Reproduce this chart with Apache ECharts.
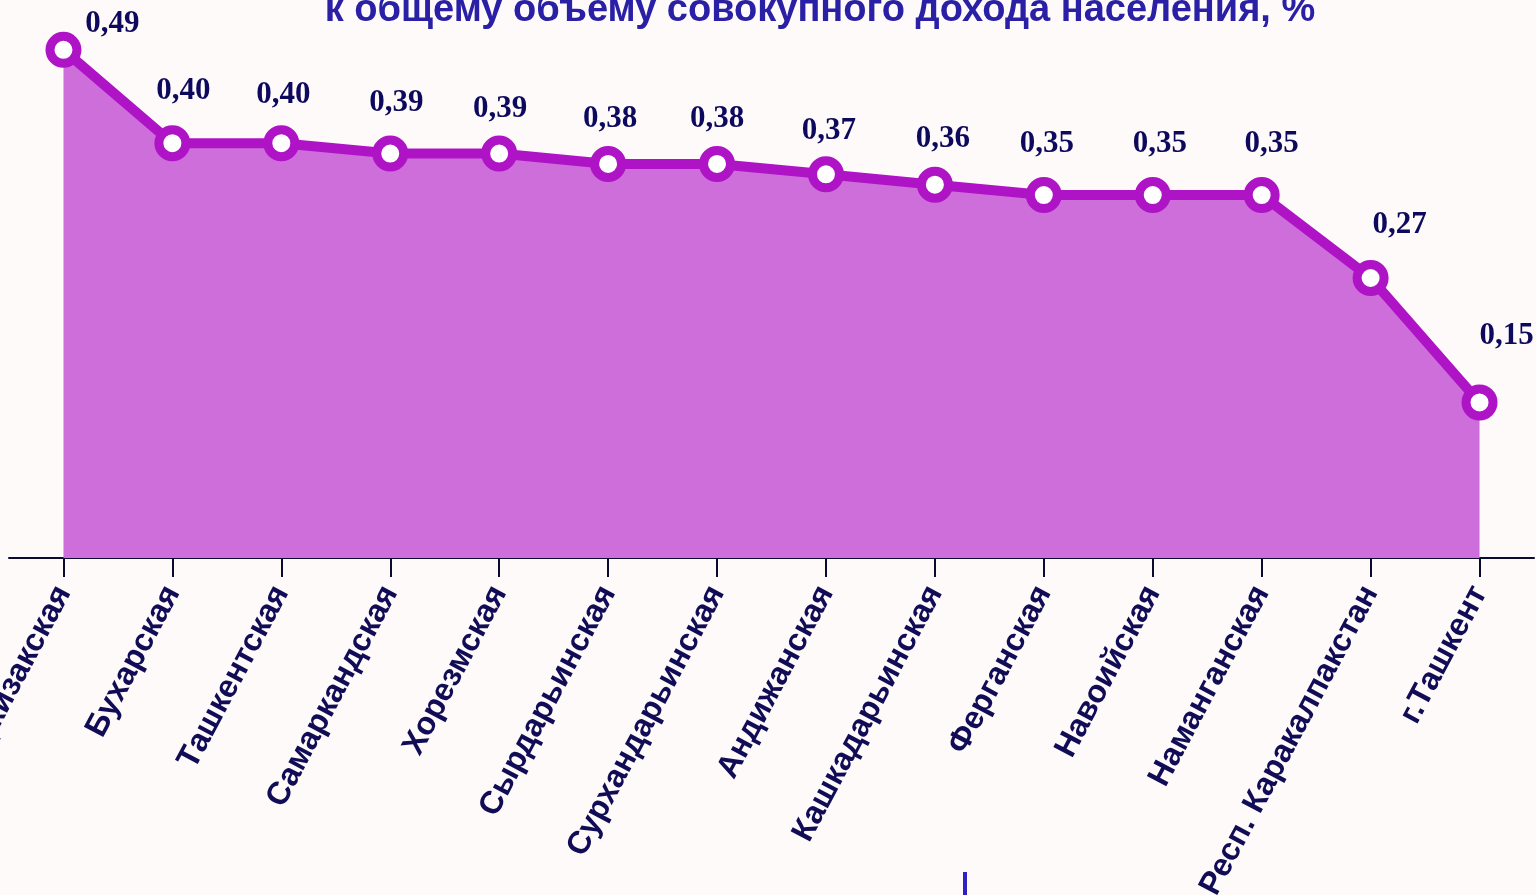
<!DOCTYPE html>
<html>
<head>
<meta charset="utf-8">
<script src="https://cdn.jsdelivr.net/npm/echarts@6/dist/echarts.min.js"></script>
<style>
  html, body { margin: 0; padding: 0; background: #fefafa; }
  #chart { width: 1536px; height: 895px; }
</style>
</head>
<body>
<div id="chart"></div>
<script>
// доля ... к общему объему совокупного дохода населения, % — по регионам
const regions = [
  'Джизакская', 'Бухарская', 'Ташкентская', 'Самаркандская', 'Хорезмская',
  'Сырдарьинская', 'Сурхандарьинская', 'Андижанская', 'Кашкадарьинская',
  'Ферганская', 'Навоийская', 'Наманганская', 'Респ. Каракалпакстан', 'г.Ташкент'
]
const shares = [0.49, 0.40, 0.40, 0.39, 0.39, 0.38, 0.38, 0.37, 0.36, 0.35, 0.35, 0.35, 0.27, 0.15]

// сдвиги подписей значений (как на исходной картинке)
const labelShift = [
  [49, 20], [11, -7], [2, -3], [6, -5], [1, 1], [2, 1], [0, 1],
  [3, 2], [8, 0], [3, -6], [7, -6], [10, -6], [29, -8], [27, -21]
]

const titleText = 'к общему объему совокупного дохода населения, %'

const chart = echarts.init(document.getElementById('chart'))

const fmt = v => v.toFixed(2).replace('.', ',')

chart.setOption({
  backgroundColor: '#fefafa',
  animation: false,
  title: {
    text: titleText,
    left: 815,
    top: -13,
    textAlign: 'center',
    textStyle: {
      fontFamily: 'Liberation Sans, Arial, sans-serif',
      fontWeight: 'bold',
      fontSize: 38,
      color: '#2a20a6'
    }
  },
  grid: { left: 9, right: 2, top: 39.5, bottom: 337, containLabel: false, outerBoundsMode: 'none' },
  xAxis: {
    type: 'category',
    data: regions,
    boundaryGap: true,
    axisLine: { show: true, lineStyle: { color: '#0b0a30', width: 2 } },
    axisTick: { show: true, alignWithLabel: true, length: 19, lineStyle: { color: '#0b0a30', width: 2 } },
    axisLabel: {
      interval: 0,
      rotate: 62,
      margin: 30,
      verticalAlign: 'middle',
      padding: [0, 0, 14, 0],
      color: '#100c55',
      fontFamily: 'Liberation Sans, Arial, sans-serif',
      fontWeight: 'bold',
      fontSize: 32
    }
  },
  yAxis: {
    type: 'value',
    min: 0,
    max: 0.5,
    show: false
  },
  series: [{
    type: 'line',
    data: shares.map((v, i) => ({
      value: v,
      label: { offset: labelShift[i] }
    })),
    symbol: 'circle',
    symbolSize: 27,
    lineStyle: { color: '#ae14c6', width: 10 },
    itemStyle: { color: '#ffffff', borderColor: '#ae14c6', borderWidth: 9 },
    areaStyle: { color: '#ce6eda', opacity: 1 },
    label: {
      show: true,
      position: 'top',
      distance: 12,
      formatter: p => fmt(p.value),
      color: '#0d0a5e',
      fontFamily: 'Liberation Serif, Times New Roman, serif',
      fontWeight: 'bold',
      fontSize: 31
    }
  }],
  graphic: [{
    type: 'rect',
    shape: { x: 963, y: 872, width: 4, height: 23 },
    style: { fill: '#2f22c0' }
  }]
})
</script>
</body>
</html>
